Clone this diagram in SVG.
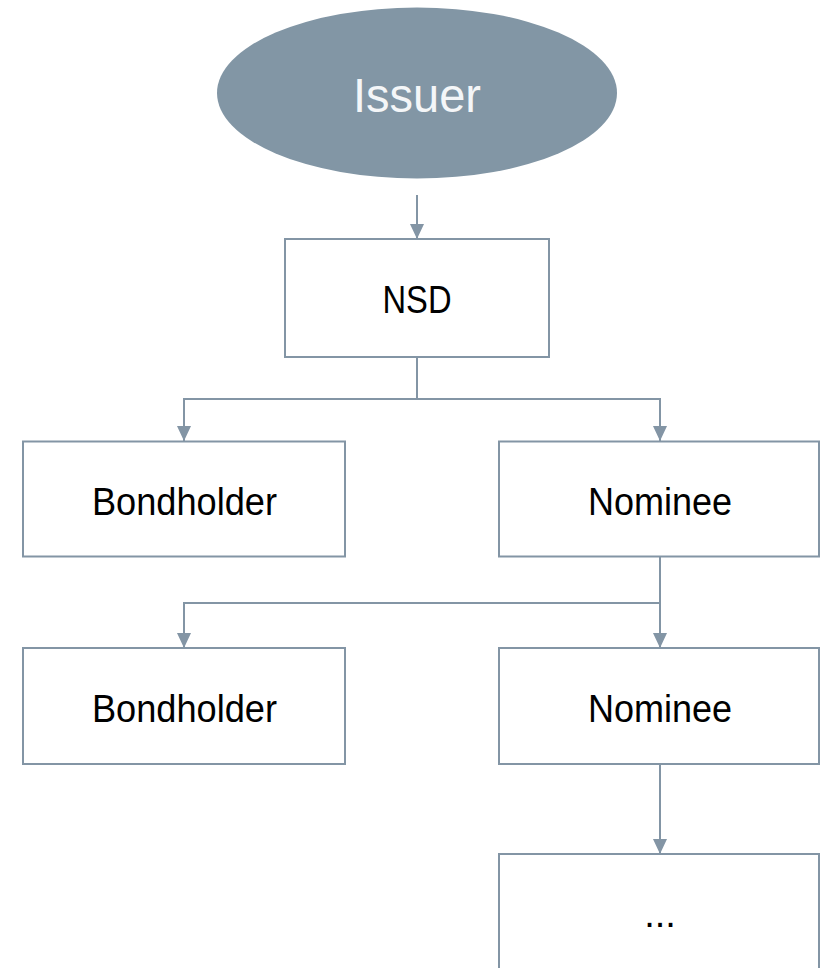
<svg xmlns="http://www.w3.org/2000/svg" width="820" height="968" viewBox="0 0 820 968">
<style>
.box{fill:#ffffff;stroke:#8395a5;stroke-width:2}
.lbl{font-family:"Liberation Sans",Arial,sans-serif;font-size:38px;fill:#000000;text-anchor:middle}
.conn{fill:none;stroke:#8395a5;stroke-width:2}
</style>
<defs>
<marker id="arr" viewBox="0 0 15 14" refX="15" refY="7" markerWidth="15" markerHeight="14" markerUnits="userSpaceOnUse" orient="auto">
<path d="M0,0 L15,7 L0,14 Z" fill="#8395a5"/>
</marker>
</defs>
<rect width="820" height="968" fill="#ffffff"/>
<g id="connectors">
<path class="conn" d="M417,195 V239" marker-end="url(#arr)"/>
<path class="conn" d="M417,357 V399 H184 V441" marker-end="url(#arr)"/>
<path class="conn" d="M417,399 H660 V441" marker-end="url(#arr)"/>
<path class="conn" d="M660,557 V603 H184 V648" marker-end="url(#arr)"/>
<path class="conn" d="M660,603 V648" marker-end="url(#arr)"/>
<path class="conn" d="M660,764 V854" marker-end="url(#arr)"/>
</g>
<g id="issuer">
<ellipse cx="417" cy="93" rx="200" ry="85.5" fill="#8296a5"/>
<text x="417" y="112" style="font-family:'Liberation Sans',Arial,sans-serif;font-size:49px;fill:#f4f6f8;text-anchor:middle" textLength="128" lengthAdjust="spacingAndGlyphs">Issuer</text>
</g>
<g id="nsd">
<rect class="box" x="285" y="239" width="264" height="118"/>
<text class="lbl" x="417" y="313" textLength="69" lengthAdjust="spacingAndGlyphs">NSD</text>
</g>
<g id="bondholder1">
<rect class="box" x="23" y="441.5" width="322" height="115"/>
<text class="lbl" x="184.5" y="515" textLength="185" lengthAdjust="spacingAndGlyphs">Bondholder</text>
</g>
<g id="nominee1">
<rect class="box" x="499" y="441.5" width="320" height="115"/>
<text class="lbl" x="660" y="515" textLength="144" lengthAdjust="spacingAndGlyphs">Nominee</text>
</g>
<g id="bondholder2">
<rect class="box" x="23" y="648" width="322" height="116"/>
<text class="lbl" x="184.5" y="721.5" textLength="185" lengthAdjust="spacingAndGlyphs">Bondholder</text>
</g>
<g id="nominee2">
<rect class="box" x="499" y="648" width="320" height="116"/>
<text class="lbl" x="660" y="721.5" textLength="144" lengthAdjust="spacingAndGlyphs">Nominee</text>
</g>
<g id="more">
<rect class="box" x="499" y="854" width="320" height="130"/>
<text class="lbl" x="660" y="926.5">...</text>
</g>
</svg>
